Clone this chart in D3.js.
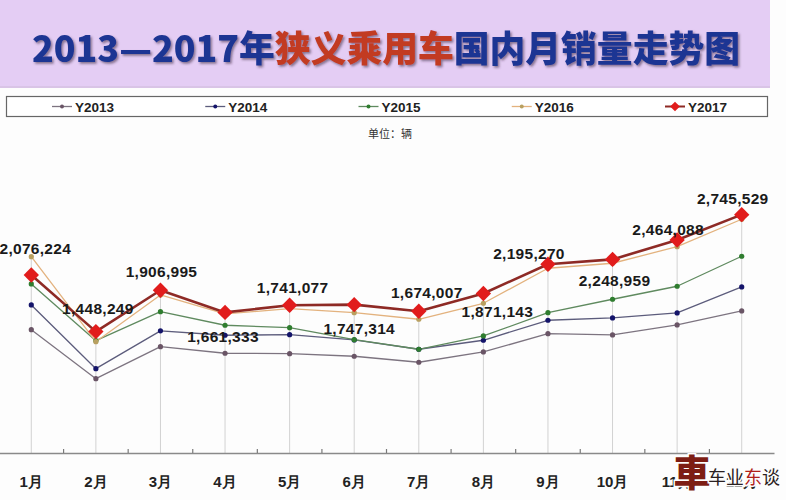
<!DOCTYPE html>
<html><head><meta charset="utf-8">
<script src="https://cdn.jsdelivr.net/npm/d3@7/dist/d3.min.js"></script>
<style>
html,body{margin:0;padding:0;background:#fdfdfd;}
svg{display:block;}
</style></head>
<body>
<svg id="chart" width="786" height="500"></svg>
<script>
// ---------- DATA ----------
const months = ["1月","2月","3月","4月","5月","6月","7月","8月","9月","10月","11月","12月"];
const seriesNames = ["Y2013","Y2014","Y2015","Y2016","Y2017"];
const y2013 = [1469949, 926441,1281385,1208178,1203741,1174902,1108350,1222597,1425581,1411161,1522081,1677369];
const y2014 = [1743921,1037361,1456529,1407834,1414489,1355701,1252546,1352374,1574214,1599725,1655185,1943577];
const y2015 = [1976853,1347937,1669605,1518754,1492133,1359029,1252546,1400069,1658513,1807146,1951342,2284102];
const y2016 = [2279665,1336845,1854841,1644093,1702881,1658513,1585306,1762778,2150998,2206458,2390585,2694506];
const y2017 = [2076224,1448249,1906995,1661333,1741077,1747314,1674007,1871143,2195270,2248959,2464088,2745529];
const titleParts = ["2013—2017年","狭义乘用车","国内月销量走势图"];
const unitText = "单位：辆";

// label placement (layout only): offset from the Y2017 point
const labelDx = [4, 2, 1, -2, 3, 5, 8, 14, -19, 2, -9, -9];
const labelDy = [-21,-18,-13, 30,-12, 29,-13, 24, -5, 27, -5,-11];

// ---------- STYLES ----------
const lineColors   = ["#7d7480","#5c5c7c","#5f8a5f","#e3b27e","#8e2a25"];
const markerColors = ["#6a5566","#14146a","#2f7d2f","#b9a060","#e11c1c"];
const lineWidths   = [1.3,1.3,1.3,1.3,2.6];

const svg = d3.select("#chart");
const defs = svg.append("defs");
const f = defs.append("filter").attr("id","ts").attr("x","-5%").attr("y","-20%").attr("width","110%").attr("height","140%");
f.append("feDropShadow").attr("dx",1.6).attr("dy",1.8).attr("stdDeviation",0.8).attr("flood-color","#3a2a40").attr("flood-opacity",0.55);

// title band
svg.append("rect").attr("x",0).attr("y",0).attr("width",770).attr("height",88).attr("fill","#e4cdf4");
svg.append("rect").attr("x",0).attr("y",86).attr("width",770).attr("height",2).attr("fill","#d9c4e6");
const title = svg.append("text").attr("x",32).attr("y",62)
  .attr("font-family","'Noto Sans CJK SC', sans-serif").attr("font-weight",900).attr("font-size",36)
  .attr("textLength",708).attr("lengthAdjust","spacingAndGlyphs").attr("filter","url(#ts)");
const titleColors = ["#1c3593","#c23a22","#1c3593"];
titleParts.forEach((t,i)=>title.append("tspan").attr("fill",titleColors[i]).text(t));

// legend
svg.append("rect").attr("x",6.5).attr("y",96.5).attr("width",761).attr("height",20)
  .attr("fill","#ffffff").attr("stroke","#666").attr("stroke-width",1.2);
const legendX = d3.scalePoint().domain(seriesNames).range([52,665]);
seriesNames.forEach((s,i)=>{
  const g = svg.append("g").attr("transform",`translate(${legendX(s)},106.5)`);
  g.append("line").attr("x1",0).attr("x2",20).attr("stroke",lineColors[i]).attr("stroke-width",i===4?2:1.3);
  if(i===4) g.append("path").attr("d",d3.symbol(d3.symbolDiamond2,60)()).attr("transform","translate(10,0)").attr("fill",markerColors[i]);
  else g.append("circle").attr("cx",10).attr("r",2).attr("fill",markerColors[i]);
  g.append("text").attr("x",23).attr("y",5).attr("font-family","'Liberation Sans', Arial, sans-serif")
   .attr("font-weight","bold").attr("font-size",13.5).attr("fill","#222").text(s);
});

svg.append("text").attr("x",390).attr("y",138).attr("text-anchor","middle")
  .attr("font-family","'Noto Sans CJK SC', sans-serif").attr("font-size",11).attr("fill","#333").text(unitText);

// scales
const x = d3.scaleBand().domain(months).range([-1,774]).padding(0);
const cx = m => x(m) + x.bandwidth()/2;
const y = d3.scaleLinear().domain([0,3000000]).range([462.2,191.7]);
const axisY = 453;

const allSeries = [y2013,y2014,y2015,y2016,y2017];

// drop lines
months.forEach((m,i)=>{
  const top = d3.max(allSeries, s=>s[i]);
  svg.append("line").attr("x1",cx(m)).attr("x2",cx(m)).attr("y1",y(top)).attr("y2",axisY)
    .attr("stroke","#d2d2d2").attr("stroke-width",1);
});

// x axis
const axis = d3.axisBottom(x).tickSize(0).tickFormat("");
const ag = svg.append("g").attr("transform",`translate(0,${axisY})`).call(axis);
ag.select(".domain").attr("stroke","#8a8a8a").attr("stroke-width",1.5);
// band boundary ticks (upward)
svg.append("g").selectAll("line").data(months.slice(1)).join("line")
  .attr("x1",d=>x(d)).attr("x2",d=>x(d)).attr("y1",axisY-4).attr("y2",axisY)
  .attr("stroke","#7a7a7a").attr("stroke-width",1.2);
svg.append("g").selectAll("text").data(months).join("text")
  .attr("x",d=>cx(d)).attr("y",487).attr("text-anchor","middle")
  .attr("font-family","'Liberation Sans', Arial, sans-serif").attr("font-weight","bold").attr("font-size",15)
  .attr("fill","#222").text(d=>d);

// lines
const line = d3.line().x((d,i)=>cx(months[i])).y(d=>y(d));
allSeries.forEach((s,k)=>{
  svg.append("path").datum(s).attr("d",line).attr("fill","none")
    .attr("stroke",lineColors[k]).attr("stroke-width",lineWidths[k]).attr("stroke-linejoin","round");
});
allSeries.forEach((s,k)=>{
  if(k===4){
    svg.append("g").selectAll("path").data(s).join("path")
      .attr("d",d3.symbol(d3.symbolDiamond2,150)())
      .attr("transform",(d,i)=>`translate(${cx(months[i])},${y(d)})`).attr("fill",markerColors[k]);
  } else {
    svg.append("g").selectAll("circle").data(s).join("circle")
      .attr("cx",(d,i)=>cx(months[i])).attr("cy",d=>y(d)).attr("r",2.6).attr("fill",markerColors[k]);
  }
});

// data labels (Y2017)
const fmt = d3.format(",");
svg.append("g").selectAll("text").data(y2017).join("text")
  .attr("x",(d,i)=>cx(months[i])+labelDx[i]).attr("y",(d,i)=>y(d)+labelDy[i]).attr("text-anchor","middle")
  .attr("font-family","'Liberation Sans', Arial, sans-serif").attr("font-weight","bold").attr("font-size",15.5)
  .attr("letter-spacing",0.3).attr("fill","#1a1a1a").text(d=>fmt(d));

// watermark
const wm = svg.append("g");
wm.append("text").attr("x",692).attr("y",487).attr("text-anchor","middle")
  .attr("font-family","'Noto Sans CJK TC', serif").attr("font-weight",900).attr("font-size",37)
  .attr("fill","#7d1d14").attr("stroke","#fdfdfd").attr("stroke-width",3).attr("paint-order","stroke").text("車");
const wt = wm.append("text").attr("x",708).attr("y",484)
  .attr("font-family","'Noto Sans CJK SC', serif").attr("font-size",18).attr("fill","#2a2020")
  .attr("stroke","#fdfdfd").attr("stroke-width",3).attr("paint-order","stroke");
wt.append("tspan").text("车业");
wt.append("tspan").attr("fill","#b0201a").text("东");
wt.append("tspan").text("谈");
</script>
</body></html>
